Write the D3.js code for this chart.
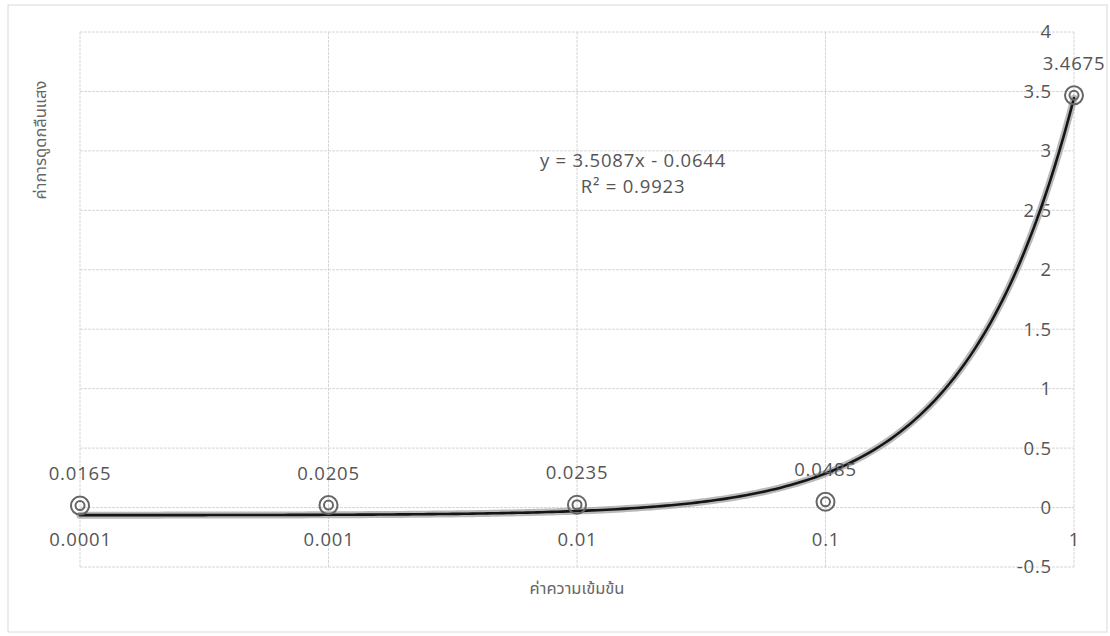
<!DOCTYPE html>
<html>
<head>
<meta charset="utf-8">
<script src="https://cdn.jsdelivr.net/npm/d3@7"></script>
<style>
  html, body { margin: 0; padding: 0; background: #fff; }
  svg { display: block; }
  .tick-label { font-family: "Open Sans", "Noto Sans", sans-serif; font-size: 18.5px; fill: #555; letter-spacing: 0.8px; }
  .axis-title { font-family: "Noto Sans", "Noto Sans Thai", sans-serif; font-size: 16.5px; fill: #666; }
</style>
</head>
<body>
<svg id="chart" width="1110" height="636"></svg>
<script>
// Concentration (x, log scale) and absorbance (y)
const concentrations = [0.0001, 0.001, 0.01, 0.1, 1];
const absorbance = [0.0165, 0.0205, 0.0235, 0.0485, 3.4675];
const pointLabels = ["0.0165", "0.0205", "0.0235", "0.0485", "3.4675"];

const xTicks = [0.0001, 0.001, 0.01, 0.1, 1];
const xTickLabels = ["0.0001", "0.001", "0.01", "0.1", "1"];
const yTicks = [-0.5, 0, 0.5, 1, 1.5, 2, 2.5, 3, 3.5, 4];
const yTickLabels = ["-0.5", "0", "0.5", "1", "1.5", "2", "2.5", "3", "3.5", "4"];

// Linear trendline y = slope * x + intercept
const trendSlope = 3.5087;
const trendIntercept = -0.0644;
const equationLines = ["y = 3.5087x - 0.0644", "R² = 0.9923"];

const xTitle = "ค่าความเข้มข้น";
const yTitle = "ค่าการดูดกลืนแสง";

const svg = d3.select("#chart");
const plot = { left: 80, right: 1074, top: 32, bottom: 567 };

// chart frame
svg.append("rect")
  .attr("x", 8).attr("y", 5).attr("width", 1099).attr("height", 627)
  .attr("fill", "none").attr("stroke", "#dadada").attr("stroke-width", 1);

const x = d3.scaleLog().domain([0.0001, 1]).range([plot.left, plot.right]);
const y = d3.scaleLinear().domain([-0.5, 4]).range([plot.bottom, plot.top]);

// gridlines
const grid = svg.append("g");
grid.selectAll("line.h").data(yTicks).join("line")
  .attr("x1", plot.left).attr("x2", plot.right)
  .attr("y1", d => y(d)).attr("y2", d => y(d))
  .attr("stroke", "#d6d6d6").attr("stroke-width", 1).attr("stroke-dasharray", "3,1");
grid.selectAll("line.v").data(xTicks).join("line")
  .attr("x1", d => x(d)).attr("x2", d => x(d))
  .attr("y1", plot.top).attr("y2", plot.bottom)
  .attr("stroke", "#d6d6d6").attr("stroke-width", 1).attr("stroke-dasharray", "3,1");

// x axis tick labels (axis crosses at y = 0)
const xAxis = d3.axisBottom(x).tickValues(xTicks)
  .tickFormat((d, i) => xTickLabels[i]).tickSize(0).tickPadding(0);
const gx = svg.append("g").attr("transform", `translate(0,${y(0) + 32})`).call(xAxis);
gx.select(".domain").remove();
gx.selectAll("text").attr("class", "tick-label").attr("dy", "0.35em")
  .attr("font-size", null).attr("font-family", null).attr("fill", null);

// y axis tick labels (right side, right-aligned)
const yAxis = d3.axisLeft(y).tickValues(yTicks)
  .tickFormat((d, i) => yTickLabels[i]).tickSize(0).tickPadding(0);
const gy = svg.append("g").attr("transform", `translate(${plot.right - 22},0)`).call(yAxis);
gy.select(".domain").remove();
gy.selectAll("text").attr("class", "tick-label")
  .attr("font-size", null).attr("font-family", null).attr("fill", null);

// trendline drawn across the log-scaled domain
const samples = d3.range(0, 201).map(i => Math.pow(10, -4 + 4 * i / 200));
const trendLine = d3.line()
  .x(d => x(d))
  .y(d => y(trendSlope * d + trendIntercept));
svg.append("path").datum(samples).attr("d", trendLine)
  .attr("fill", "none").attr("stroke", "#a8a8a8").attr("stroke-width", 7)
  .attr("stroke-linecap", "round").attr("opacity", 0.8);
svg.append("path").datum(samples).attr("d", trendLine)
  .attr("fill", "none").attr("stroke", "#151515").attr("stroke-width", 2.6)
  .attr("stroke-linecap", "round");

// markers: double rings
const pts = concentrations.map((c, i) => ({ c, v: absorbance[i], label: pointLabels[i] }));
const markers = svg.append("g").selectAll("g").data(pts).join("g")
  .attr("transform", d => `translate(${x(d.c)},${y(d.v)})`);
markers.append("circle").attr("r", 9).attr("fill", "none").attr("stroke", "#666").attr("stroke-width", 2);
markers.append("circle").attr("r", 4.5).attr("fill", "none").attr("stroke", "#666").attr("stroke-width", 2);

// data labels above points
svg.append("g").selectAll("text").data(pts).join("text")
  .attr("class", "tick-label")
  .attr("x", d => x(d.c))
  .attr("y", d => y(d.v) - 32)
  .attr("dy", "0.35em")
  .attr("text-anchor", "middle")
  .text(d => d.label);

// trendline equation
svg.append("g").selectAll("text").data(equationLines).join("text")
  .attr("class", "tick-label")
  .attr("x", 633)
  .attr("y", (d, i) => 161 + i * 26)
  .attr("dy", "0.35em")
  .attr("text-anchor", "middle")
  .text(d => d);

// axis titles
svg.append("text").attr("class", "axis-title")
  .attr("x", 577).attr("y", 588).attr("dy", "0.35em")
  .attr("text-anchor", "middle").text(xTitle);
svg.append("text").attr("class", "axis-title")
  .attr("transform", "translate(40,140) rotate(-90)")
  .attr("dy", "0.35em")
  .attr("text-anchor", "middle").text(yTitle);
</script>
</body>
</html>
